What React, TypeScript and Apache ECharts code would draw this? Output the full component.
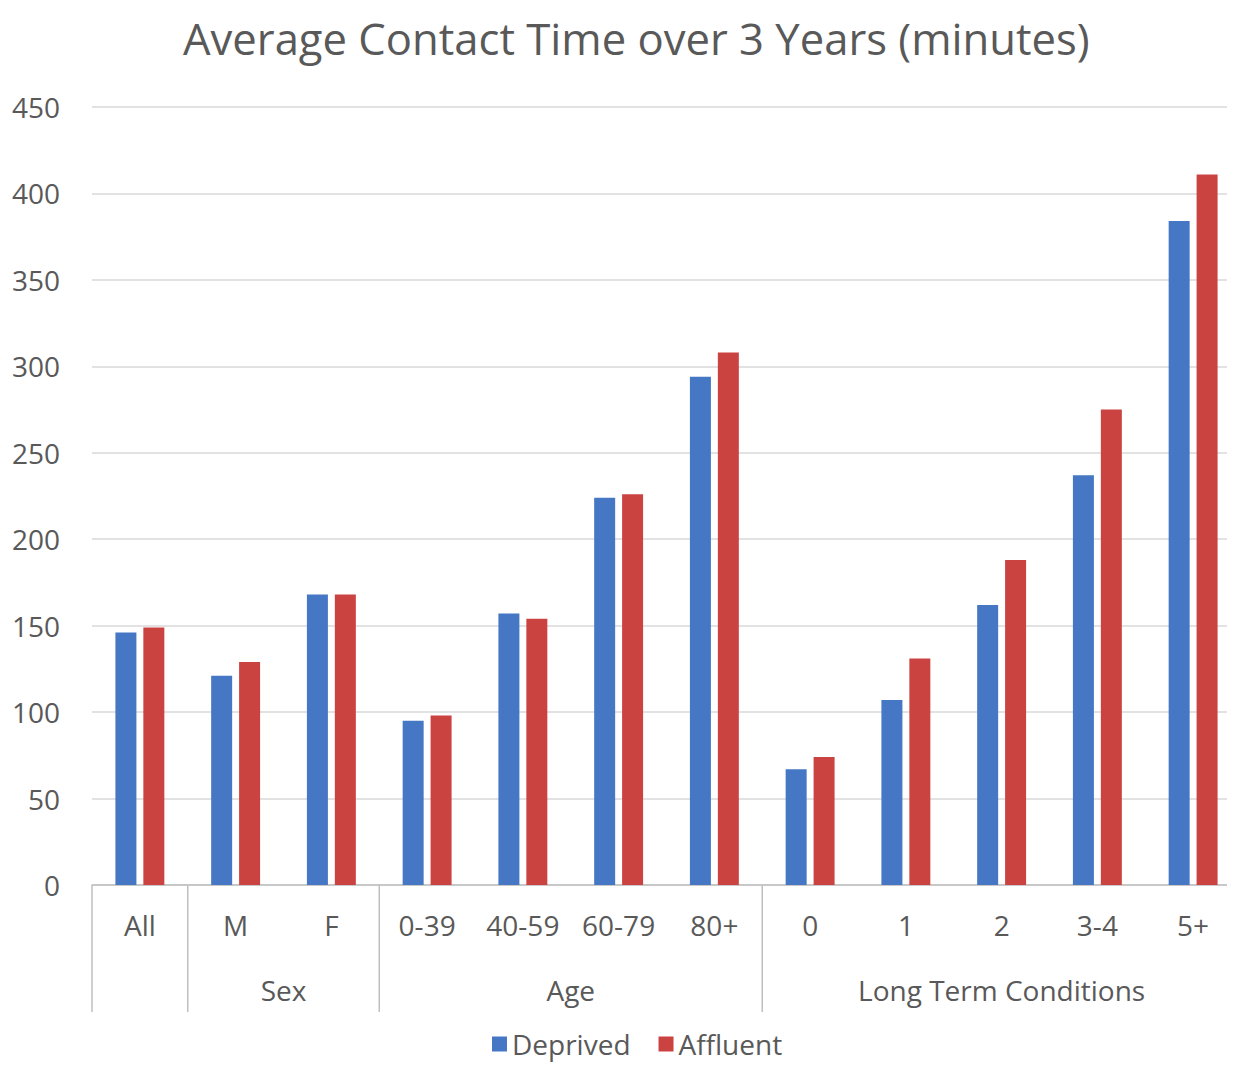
import React, { useEffect, useRef } from "react";
import * as echarts from "echarts";

const titleText = "Average Contact Time over 3 Years (minutes)";
const categories = ["All", "M", "F", "0-39", "40-59", "60-79", "80+", "0", "1", "2", "3-4", "5+"];
const deprived = [146, 121, 168, 95, 157, 224, 294, 67, 107, 162, 237, 384];
const affluent = [149, 129, 168, 98, 154, 226, 308, 74, 131, 188, 275, 411];
const groupLabels = ["", "Sex", "Age", "Long Term Conditions"];
const groupStarts = [0, 1, 3, 7];
const groupEnds = [1, 3, 7, 12];
const seriesNames = ["Deprived", "Affluent"];

const FONT = "Open Sans";
const TEXT = "#595959";

export default function App() {
  const ref = useRef<HTMLDivElement>(null);
  useEffect(() => {
    if (!ref.current) return;
    const chart = echarts.init(ref.current, null, { renderer: "svg" });
    chart.setOption({
      animation: false,
      textStyle: { fontFamily: FONT },
      title: {
        text: titleText,
        left: 170,
        top: 3,
        textStyle: { fontFamily: FONT, fontSize: 43.6, fontWeight: "normal", color: TEXT },
      },
      legend: {
        data: seriesNames,
        top: 1017,
        left: 479,
        itemWidth: 15,
        itemHeight: 15,
        itemGap: 28,
        icon: "rect",
        textStyle: { fontFamily: FONT, fontSize: 28, color: TEXT },
      },
      grid: { left: 84, width: 1149, top: 99, bottom: 179, containLabel: false },
      xAxis: {
        type: "category",
        data: categories,
        axisLine: { lineStyle: { color: "#bfbfbf", width: 1.5 } },
        axisTick: { show: false },
        axisLabel: { fontFamily: FONT, fontSize: 28, color: TEXT, margin: 26, interval: 0 },
      },
      yAxis: {
        type: "value",
        min: 0,
        max: 450,
        interval: 50,
        axisLine: { show: false },
        axisTick: { show: false },
        splitLine: { lineStyle: { color: "#d9d9d9", width: 1.5 } },
        axisLabel: { fontFamily: FONT, fontSize: 28, color: TEXT, margin: 32 },
      },
      series: [
        {
          name: seriesNames[0],
          type: "bar",
          data: deprived,
          barWidth: 21,
          barGap: "33%",
          itemStyle: { color: "#4577c5" },
        },
        {
          name: seriesNames[1],
          type: "bar",
          data: affluent,
          barWidth: 21,
          barGap: "33%",
          itemStyle: { color: "#cb4340" },
        },
      ],
    });

    const c0 = chart.convertToPixel({ xAxisIndex: 0 }, 0) as number;
    const c1 = chart.convertToPixel({ xAxisIndex: 0 }, 1) as number;
    const band = c1 - c0;
    const edge = (i: number) => c0 - band / 2 + i * band;
    const yAxisPx = chart.convertToPixel({ yAxisIndex: 0 }, 0) as number;
    const graphics: any[] = [];
    groupStarts.forEach((s, gi) => {
      graphics.push({
        type: "line",
        shape: { x1: edge(s), y1: yAxisPx, x2: edge(s), y2: yAxisPx + 127 },
        style: { stroke: "#bfbfbf", lineWidth: 1.5 },
      });
      if (groupLabels[gi]) {
        graphics.push({
          type: "text",
          x: (edge(s) + edge(groupEnds[gi])) / 2,
          y: yAxisPx + 105,
          style: {
            text: groupLabels[gi],
            fontFamily: FONT,
            fontSize: 28,
            fill: TEXT,
            align: "center",
            verticalAlign: "middle",
          },
        });
      }
    });
    chart.setOption({ graphic: graphics });

    return () => chart.dispose();
  }, []);
  return (
    <div style={{ width: 1227, height: 1056, overflow: "hidden" }}>
      <div ref={ref} style={{ width: 1240, height: 1056 }} />
    </div>
  );
}
